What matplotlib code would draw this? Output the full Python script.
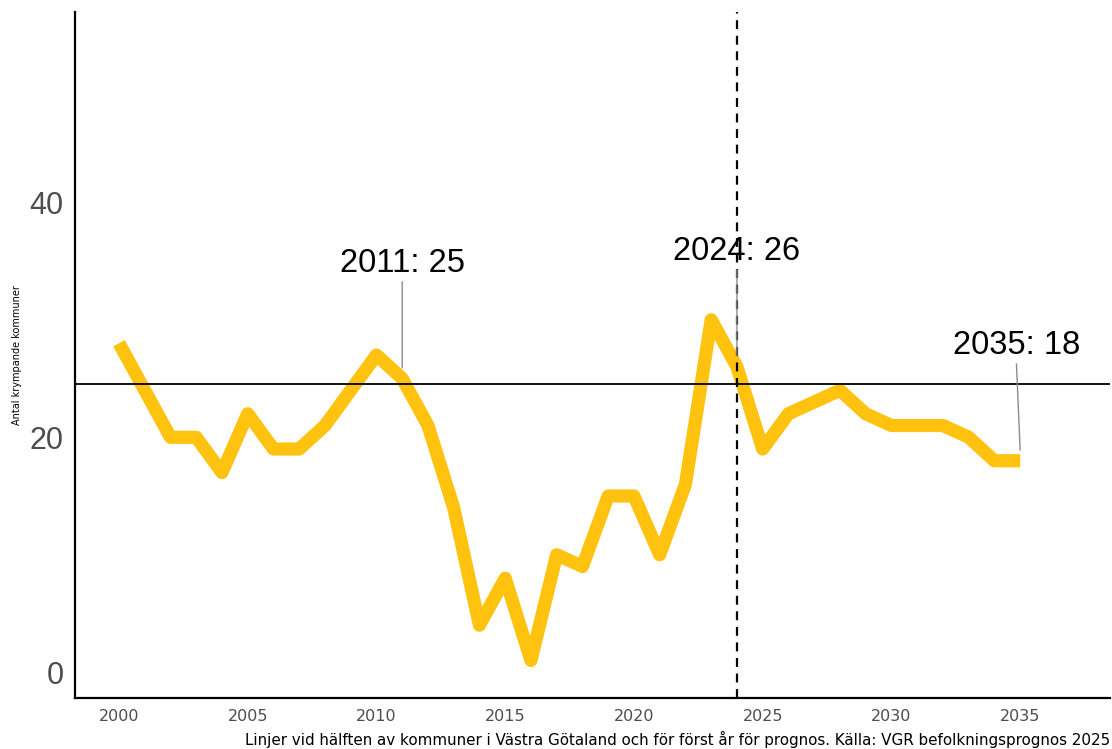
import matplotlib
matplotlib.use("Agg")
import matplotlib.pyplot as plt

# antal krympande kommuner per år (utfall + prognos)
years = list(range(2000, 2036))
shrinking = [28, 24, 20, 20, 17, 22, 19, 19, 21, 24,
             27, 25, 21, 14, 4, 8, 1, 10, 9, 15,
             15, 10, 16, 30, 26, 19, 22, 23, 24, 22,
             21, 21, 21, 20, 18, 18]
half_line = 24.5
forecast_start = 2024
labelled_years = [2011, 2024, 2035]
label_pos = [(2011, 34.8), (2024, 35.8), (2034.85, 27.8)]

caption = ("Linjer vid hälften av kommuner i Västra Götaland och för först år för prognos. "
           "Källa: VGR befolkningsprognos 2025")

fig = plt.figure(figsize=(11.12, 7.49), dpi=100)
ax = fig.add_axes([0.0674, 0.068, 0.9306, 0.916])

ax.plot(years, shrinking, color="#FFC20E", lw=9.5,
        solid_capstyle="butt", solid_joinstyle="round", zorder=2)
ax.axhline(half_line, color="black", lw=1.3, zorder=3)
ax.axvline(forecast_start, color="black", lw=1.6, ls=(0, (4, 3)), zorder=3)

# etiketter med tunna ledlinjer
for yr, (tx, ty) in zip(labelled_years, label_pos):
    val = shrinking[years.index(yr)]
    ax.annotate(f"{yr}: {val}", xy=(yr, val + 0.9), xytext=(tx, ty),
                ha="center", va="center", fontsize=23.5, color="black",
                family=["Liberation Sans", "DejaVu Sans"],
                arrowprops=dict(arrowstyle="-", color="#8c8c8c", lw=1,
                                shrinkA=0, shrinkB=0, relpos=(0.5, 0.0)),
                zorder=4)

ax.set_xlim(1998.29, 2038.48)
ax.set_ylim(-2.2, 56.2)
ax.set_xticks(range(2000, 2036, 5))
ax.set_yticks([0, 20, 40])
ax.tick_params(axis="x", length=0, labelsize=11.5, labelcolor="#4d4d4d", pad=8)
ax.tick_params(axis="y", length=0, labelsize=22, labelcolor="#4d4d4d", pad=8)
for lab in ax.get_yticklabels():
    lab.set_family(["Liberation Sans", "DejaVu Sans"])

for s in ["top", "right"]:
    ax.spines[s].set_visible(False)
for s in ["left", "bottom"]:
    ax.spines[s].set_linewidth(1.6)
    ax.spines[s].set_color("black")

ax.set_ylabel("Antal krympande kommuner", fontsize=7, color="black")
ax.yaxis.set_label_coords(-0.051, 0.5)

fig.text(0.998, 0.002, caption, ha="right", va="bottom", fontsize=10.9, color="black")

fig.savefig("out.png", dpi=100)
